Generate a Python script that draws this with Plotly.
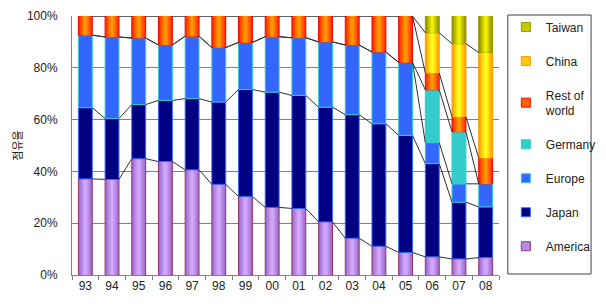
import numpy as np
import plotly.graph_objects as go

years = ["93", "94", "95", "96", "97", "98", "99", "00", "01", "02", "03", "04", "05", "06", "07", "08"]
america = [37.1, 36.9, 44.9, 43.8, 40.6, 35.0, 30.3, 26.1, 25.7, 20.5, 14.2, 11.1, 8.7, 7.0, 6.2, 6.7]
japan = [27.5, 23.5, 20.9, 23.6, 27.5, 31.8, 41.3, 44.5, 43.6, 44.3, 47.7, 47.3, 45.2, 36.0, 21.9, 19.6]
europe = [28.0, 31.5, 25.7, 21.4, 24.1, 21.0, 18.2, 21.4, 22.3, 25.2, 26.9, 27.7, 28.2, 8.1, 7.1, 8.9]
germany = [0, 0, 0, 0, 0, 0, 0, 0, 0, 0, 0, 0, 0, 20.4, 20.1, 0]
rest_of_world = [7.4, 8.1, 8.5, 11.2, 7.8, 12.2, 10.2, 8.0, 8.4, 10.0, 11.2, 13.9, 17.9, 6.5, 5.8, 10.0]
china = [0, 0, 0, 0, 0, 0, 0, 0, 0, 0, 0, 0, 0, 15.5, 28.2, 40.7]
taiwan = [0, 0, 0, 0, 0, 0, 0, 0, 0, 0, 0, 0, 0, 6.5, 10.7, 14.1]
y_ticks = [0, 20, 40, 60, 80, 100]
y_tick_labels = ["0%", "20%", "40%", "60%", "80%", "100%"]

series = [
    ("America", america),
    ("Japan", japan),
    ("Europe", europe),
    ("Germany", germany),
    ("Rest of<br>world", rest_of_world),
    ("China", china),
    ("Taiwan", taiwan),
]

styles = {
    "America": dict(edge="#9a6ccc", center="#d4a8ff", line="#993366", legend="#b48be6"),
    "Japan": dict(edge="#000080", center="#000080", line="#3366ff", legend="#000080"),
    "Europe": dict(edge="#3366ff", center="#3366ff", line="#33cccc", legend="#3366ff"),
    "Germany": dict(edge="#33cccc", center="#33cccc", line="#33cccc", legend="#33cccc"),
    "Rest of<br>world": dict(edge="#ff2a00", center="#ff9a00", line="#ff0000", legend="#ff6400"),
    "China": dict(edge="#ffa000", center="#ffff20", line="#ff9900", legend="#ffcc10"),
    "Taiwan": dict(edge="#8f8f00", center="#f2f200", line="#999900", legend="#c8c800"),
}

BAR_W = 0.52
N_LAYERS = 6


def hex_to_rgb(h):
    h = h.lstrip("#")
    return [int(h[i:i + 2], 16) for i in (0, 2, 4)]


def mix(a, b, t):
    ra, rb = hex_to_rgb(a), hex_to_rgb(b)
    return "rgb(%d,%d,%d)" % tuple(round(ra[i] + (rb[i] - ra[i]) * t) for i in range(3))


fig = go.Figure()
cum = np.zeros(len(years))
tops = []
for name, vals in series:
    v = np.array(vals, dtype=float)
    st = styles[name]
    yv = [x if x > 0 else None for x in v]
    solid = st["edge"] == st["center"]
    n = 1 if solid else N_LAYERS
    for j in range(n):
        t = j / (n - 1) if n > 1 else 0
        w = BAR_W * (1 - j / n) if n > 1 else BAR_W
        fig.add_trace(go.Bar(
            x=years, y=yv, base=cum.copy(), width=w,
            name=name, showlegend=False,
            marker=dict(color=mix(st["edge"], st["center"], t) if n > 1 else st["edge"],
                        line=dict(color=st["line"] if j == 0 else "rgba(0,0,0,0)", width=1 if j == 0 else 0)),
            hoverinfo="skip",
        ))
    cum = cum + v
    tops.append(cum.copy())

# Excel-style series lines connecting segment tops between adjacent bars
for top in tops[:-1]:
    xs, ys = [], []
    for i in range(len(years) - 1):
        xs += [i + BAR_W / 2, i + 1 - BAR_W / 2, None]
        ys += [top[i], top[i + 1], None]
    fig.add_trace(go.Scatter(x=xs, y=ys, xaxis="x2", mode="lines",
                             line=dict(color="#303030", width=1),
                             showlegend=False, hoverinfo="skip"))

# legend entries (top to bottom: Taiwan ... America)
for name, _ in reversed(series):
    st = styles[name]
    fig.add_trace(go.Scatter(
        x=[None], y=[None], xaxis="x2", mode="markers", name=name, legendgroup=name,
        marker=dict(symbol="square", size=9, color=st["legend"], line=dict(color=st["line"], width=1)),
        showlegend=True, hoverinfo="skip"))

# page offset: browser body margin of 8px
OFF = 8
W_PAGE, H_PAGE = 606, 304
PX_L, PX_R, PX_T, PX_B = 72, 508, 13, 275
pw, ph = PX_R - PX_L, PX_B - PX_T

font_latin = "Liberation Sans, Arial, sans-serif"
fig.update_layout(
    width=W_PAGE - OFF, height=H_PAGE - OFF,
    margin=dict(l=PX_L - OFF, r=W_PAGE - PX_R, t=PX_T - OFF, b=H_PAGE - PX_B),
    paper_bgcolor="white", plot_bgcolor="white",
    barmode="overlay",
    font=dict(family=font_latin, size=12, color="#222222"),
    xaxis=dict(type="category", tickson="boundaries", ticks="outside", ticklen=4,
               tickcolor="#808080", showline=True, linecolor="#808080", linewidth=1,
               showgrid=False, range=[-0.5, 15.5], tickfont=dict(size=12), automargin=False),
    xaxis2=dict(overlaying="x", range=[-0.5, 15.5], visible=False),
    yaxis=dict(range=[0, 100], tickmode="array", tickvals=y_ticks, ticktext=y_tick_labels,
               showgrid=True, gridcolor="#808080", gridwidth=1,
               showline=True, linecolor="#808080", linewidth=1,
               ticks="", ticklabelstandoff=11, tickfont=dict(size=12), automargin=False,
               title=dict(text="점유율", font=dict(family="Noto Sans CJK KR", size=11), standoff=2)),
    legend=dict(x=(515 - PX_L) / pw, xanchor="left", y=(PX_B - 9.5) / ph, yanchor="top",
                traceorder="grouped", tracegroupgap=15, maxheight=500,
                borderwidth=0, bgcolor="rgba(0,0,0,0)",
                font=dict(size=12), itemwidth=30),
    shapes=[dict(type="rect", xref="paper", yref="paper",
                 x0=(517 - PX_L) / pw, x1=(602 - PX_L) / pw,
                 y0=(PX_B - 274) / ph, y1=(PX_B - 12) / ph,
                 line=dict(color="#404040", width=1), fillcolor="rgba(0,0,0,0)", layer="below")],
)

fig.write_html("out.html")
